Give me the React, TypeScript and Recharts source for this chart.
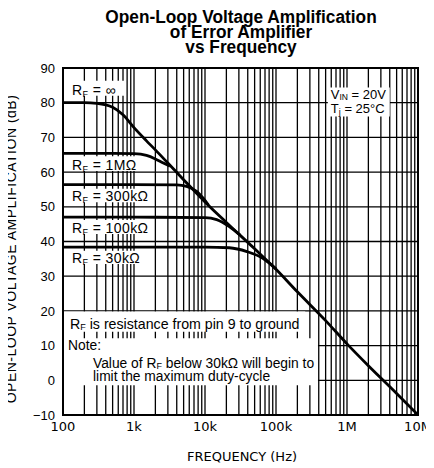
import React from "react";
import { CartesianGrid, Line, LineChart, ReferenceArea, XAxis, YAxis } from "recharts";

// axes
const freqTicks = [100, 1000, 10000, 100000, 1000000, 10000000];
const freqTickLabels = ["100", "1k", "10k", "100k", "1M", "10M"];
const gainTicks = [-10, 0, 10, 20, 30, 40, 50, 60, 70, 80, 90];
const gridSteps = [1, 2, 3, 4, 5, 6, 7, 8, 9];

// RF = infinity
const freqInf = [100, 200, 300, 500, 700, 1000, 1500, 2000, 3000, 5000, 10000, 20000, 50000, 100000, 200000, 500000, 1000000, 2000000, 5000000, 10000000];
const gainInf = [80, 80, 79.8, 78.7, 76.5, 72.8, 69, 66.4, 62.6, 57.8, 51.4, 45.5, 37.9, 32, 25.5, 17.2, 10.5, 4.2, -3.8, -10];
// RF = 1M
const freq1M = [100, 500, 1000, 1500, 2000, 2500, 3200];
const gain1M = [65.4, 65.4, 65.3, 64.8, 63.8, 62.8, 61.7];
// RF = 300k
const freq300k = [100, 1000, 4000, 5500, 7700, 9500, 11200];
const gain300k = [56.4, 56.4, 56.3, 55.9, 54.4, 52.4, 50.5];
// RF = 100k
const freq100k = [100, 1000, 10000, 14600, 22000, 31000];
const gain100k = [47, 47, 46.9, 46.3, 44.3, 41.9];
// RF = 30k
const freq30k = [100, 1000, 10000, 22000, 39000, 66000, 100000];
const gain30k = [38.4, 38.4, 38.4, 38.2, 37.1, 35.1, 32.1];

const rfNames = ["\u221e", "1M\u03a9", "300k\u03a9", "100k\u03a9", "30k\u03a9"];

const toPoints = (f: number[], g: number[]) => f.map((freq, i) => ({ freq, gain: g[i] }));
const series = [
  toPoints(freqInf, gainInf),
  toPoints(freq1M, gain1M),
  toPoints(freq300k, gain300k),
  toPoints(freq100k, gain100k),
  toPoints(freq30k, gain30k),
];

// log paper: 1..9 in every decade
const gridFreqs = [...freqTicks.slice(0, 5).flatMap((d) => gridSteps.map((m) => d * m)), 10000000];

// white label boxes, in chart units
const rfBoxes = [
  { x2: 750, top: 86.3, bottom: 82 },
  { x2: 1100, top: 64.6, bottom: 60.3 },
  { x2: 1700, top: 55.2, bottom: 51.3 },
  { x2: 1600, top: 46.2, bottom: 42.15 },
  { x2: 1100, top: 37.3, bottom: 33.5 },
];

const FONT = "'Liberation Sans', Arial, sans-serif";
const AXIS_FONT = "'DejaVu Sans', sans-serif";

const rfText = (name: string) => (props: any) => {
  const { x, y, height } = props.viewBox;
  return (
    <text x={x + 9} y={y + height - 1} fontFamily={FONT} fontSize={14} letterSpacing={0.4} fill="#000">
      R<tspan fontSize={9} dy={2}>F</tspan>
      <tspan dy={-2}>{"  =  " + name}</tspan>
    </text>
  );
};

const condText = (props: any) => {
  const { x, y } = props.viewBox;
  return (
    <text fontFamily={FONT} fontSize={13} fill="#000">
      <tspan x={x + 3} y={y + 12}>V</tspan>
      <tspan fontSize={8.5} dy={1}>IN</tspan>
      <tspan dy={-1}>{" = 20V"}</tspan>
      <tspan x={x + 3} y={y + 26}>T</tspan>
      <tspan fontSize={9} dy={2}>j</tspan>
      <tspan dy={-2}>{" = 25\u00b0C"}</tspan>
    </text>
  );
};

const pinText = (props: any) => {
  const { x, y, height } = props.viewBox;
  return (
    <text x={x + 7} y={y + height - 2.5} fontFamily={FONT} fontSize={14.2} fill="#000">
      R<tspan fontSize={9} dy={1}>F</tspan>
      <tspan dy={-1}>{" is resistance from pin 9 to ground"}</tspan>
    </text>
  );
};

const noteText = (props: any) => {
  const { x, y } = props.viewBox;
  return (
    <text fontFamily={FONT} fontSize={13.8} fill="#000">
      <tspan x={x + 5} y={y + 12}>Note:</tspan>
      <tspan x={x + 30} y={y + 30}>Value of R</tspan>
      <tspan fontSize={9} dy={1}>F</tspan>
      <tspan dy={-1}>{" below 30k\u03a9 will begin to"}</tspan>
      <tspan x={x + 30} y={y + 42.5}>limit the maximum duty-cycle</tspan>
    </text>
  );
};

const fmtFreq = (v: number) => freqTickLabels[freqTicks.indexOf(v)] ?? String(v);
const fmtGain = (v: number) => (v < 0 ? "\u2212" + Math.abs(v) : String(v));

// minor log grid placed through the x axis scale
const logGrid = (p: any) => {
  const scale = p?.xAxis?.scale;
  if (typeof scale === "function") return gridFreqs.map((f) => scale(f));
  const left = p.offset.left;
  const w = p.offset.width;
  return gridFreqs.map((f) => left + (w * (Math.log10(f) - 2)) / 5);
};

export default function App() {
  return (
    <div style={{ position: "relative", width: 434, height: 468, margin: "-8px 0 0 -8px", background: "#fff" }}>
      <LineChart width={434} height={468} margin={{ top: 68, right: 16, bottom: 0, left: 0 }}>
        <CartesianGrid stroke="#000" strokeWidth={1.3} horizontalValues={gainTicks} verticalCoordinatesGenerator={logGrid} />
        <XAxis
          dataKey="freq"
          type="number"
          scale="log"
          domain={[100, 10000000]}
          ticks={freqTicks}
          tickFormatter={fmtFreq}
          allowDataOverflow
          height={53}
          axisLine={false}
          tickLine={false}
          tickSize={0}
          tickMargin={7}
          tick={{ fill: "#000", fontSize: 13, fontFamily: AXIS_FONT }}
        />
        <YAxis
          type="number"
          domain={[-10, 90]}
          ticks={gainTicks}
          tickFormatter={fmtGain}
          width={63}
          axisLine={false}
          tickLine={false}
          tickSize={0}
          tickMargin={8}
          tick={{ fill: "#000", fontSize: 13, fontFamily: FONT }}
        />
        {rfBoxes.map((b, i) => (
          <ReferenceArea key={i} x1={100} x2={b.x2} y1={b.bottom} y2={b.top} fill="#fff" fillOpacity={1} stroke="none" label={rfText(rfNames[i])} />
        ))}
        <ReferenceArea x1={537000} x2={4000000} y1={76} y2={84.4} fill="#fff" fillOpacity={1} stroke="none" label={condText} />
        <ReferenceArea x1={100} x2={258000} y1={14} y2={19.8} fill="#fff" fillOpacity={1} stroke="none" label={pinText} />
        <ReferenceArea x1={100} x2={390000} y1={-1.4} y2={12.1} fill="#fff" fillOpacity={1} stroke="none" label={noteText} />
        <ReferenceArea x1={100} x2={10000000} y1={-10} y2={90} fill="none" stroke="#000" strokeWidth={2} />
        {series.map((d, i) => (
          <Line key={i} data={d} dataKey="gain" type="monotone" stroke="#000" strokeWidth={2.8} dot={false} activeDot={false} isAnimationActive={false} />
        ))}
      </LineChart>
      <svg width={434} height={468} style={{ position: "absolute", left: 0, top: 0, pointerEvents: "none" }}>
        <g fontFamily={FONT} fontWeight="bold" fontSize={18} textAnchor="middle" transform="translate(241,0) scale(0.96,1)">
          <text x={0} y={23}>Open-Loop Voltage Amplification</text>
          <text x={0} y={38.3}>of Error Amplifier</text>
          <text x={0} y={53.5}>vs Frequency</text>
        </g>
        <text transform="translate(16,249) rotate(-90)" textAnchor="middle" fontFamily={FONT} fontSize={14} letterSpacing={0.5}>
          OPEN-LOOP VOLTAGE AMPLIFICATION (dB)
        </text>
        <text x={242} y={461} textAnchor="middle" fontFamily={AXIS_FONT} fontSize={13}>
          FREQUENCY (Hz)
        </text>
      </svg>
    </div>
  );
}
